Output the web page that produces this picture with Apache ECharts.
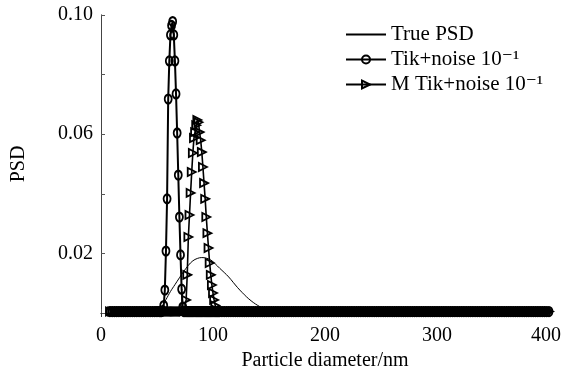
<!DOCTYPE html>
<html>
<head>
<meta charset="utf-8">
<script src="https://cdn.jsdelivr.net/npm/echarts@6/dist/echarts.min.js"></script>
<style>
html,body{margin:0;padding:0;background:#fff;}
#chart{width:562px;height:368px;}
</style>
</head>
<body>
<div id="chart"></div>
<script>
// ---- data ----
const seriesNames = ['True PSD', 'Tik+noise 10\u207B\u00B9', 'M Tik+noise 10\u207B\u00B9'];
const yTickLabels = ['0.02', '0.06', '0.10'];
const xTickLabels = ['0', '100', '200', '300', '400'];

// True PSD (smooth curve)
const trueDiam = [8, 50, 54, 58, 62, 66, 70, 74, 78, 82, 86, 90, 94, 98, 102, 106, 110, 114, 118, 122, 126, 130, 134, 138, 142, 146, 150, 154, 400];
const truePsd  = [0.0005, 0.0006, 0.0020, 0.0045, 0.0072, 0.0095, 0.0118, 0.0140, 0.0160, 0.0175, 0.0183, 0.0186, 0.0184, 0.0178, 0.0165, 0.0150, 0.0136, 0.0121, 0.0103, 0.0085, 0.0069, 0.0054, 0.0041, 0.0030, 0.0021, 0.0013, 0.0008, 0.0005, 0.0005];

// shared diameter grid of the two reconstructions (nm)
const diameters = [
  8, 10, 12, 14, 16, 18, 20, 22, 24, 26,
  28, 30, 32, 34, 36, 38, 40, 42, 44, 46,
  48, 50, 52,
  53, 54, 55, 56, 57, 58, 59, 60, 61, 62,
  63, 64, 65, 66, 67, 68, 69, 70, 71, 72,
  73, 74, 75, 76, 77, 78, 79, 80, 81, 82,
  83, 84, 85, 86, 87, 88, 89, 90, 91, 92,
  93, 94, 95, 96, 97, 98, 99, 100, 101, 102,
  103, 104, 105,
  106, 108, 110, 112, 114, 116, 118, 120, 122, 124,
  126, 128, 130, 132, 134, 136, 138, 140, 142, 144,
  146, 148, 150, 152, 154, 156, 158, 160, 162, 164,
  166, 168, 170, 172, 174, 176, 178, 180, 182, 184,
  186, 188, 190, 192, 194, 196, 198, 200, 202, 204,
  206, 208, 210, 212, 214, 216, 218, 220, 222, 224,
  226, 228, 230, 232, 234, 236, 238, 240, 242, 244,
  246, 248, 250, 252, 254, 256, 258, 260, 262, 264,
  266, 268, 270, 272, 274, 276, 278, 280, 282, 284,
  286, 288, 290, 292, 294, 296, 298, 300, 302, 304,
  306, 308, 310, 312, 314, 316, 318, 320, 322, 324,
  326, 328, 330, 332, 334, 336, 338, 340, 342, 344,
  346, 348, 350, 352, 354, 356, 358, 360, 362, 364,
  366, 368, 370, 372, 374, 376, 378, 380, 382, 384,
  386, 388, 390, 392, 394, 396, 398, 400
];

// Tik + noise 1e-1 (circles)
const tikPsd = [
  0.0005, 0.0005, 0.0005, 0.0005, 0.0005, 0.0005, 0.0005, 0.0005, 0.0005, 0.0005,
  0.0005, 0.0005, 0.0005, 0.0005, 0.0005, 0.0005, 0.0005, 0.0005, 0.0005, 0.0005,
  0.0005, 0.0005, 0.0005,
  0.0005, 0.0005, 0.0008, 0.0025, 0.0077, 0.0208, 0.0383, 0.0718, 0.0846, 0.0933,
  0.0965, 0.0978, 0.0933, 0.0846, 0.0735, 0.0604, 0.0463, 0.0322, 0.0195, 0.0080,
  0.0020, 0.0005, 0.0005, 0.0005, 0.0005, 0.0005, 0.0005, 0.0005, 0.0005, 0.0005,
  0.0005, 0.0005, 0.0005, 0.0005, 0.0005, 0.0005, 0.0005, 0.0005, 0.0005, 0.0005,
  0.0005, 0.0005, 0.0005, 0.0005, 0.0005, 0.0005, 0.0005, 0.0005, 0.0005, 0.0005,
  0.0005, 0.0005, 0.0005,
  0.0005, 0.0005, 0.0005, 0.0005, 0.0005, 0.0005, 0.0005, 0.0005, 0.0005, 0.0005,
  0.0005, 0.0005, 0.0005, 0.0005, 0.0005, 0.0005, 0.0005, 0.0005, 0.0005, 0.0005,
  0.0005, 0.0005, 0.0005, 0.0005, 0.0005, 0.0005, 0.0005, 0.0005, 0.0005, 0.0005,
  0.0005, 0.0005, 0.0005, 0.0005, 0.0005, 0.0005, 0.0005, 0.0005, 0.0005, 0.0005,
  0.0005, 0.0005, 0.0005, 0.0005, 0.0005, 0.0005, 0.0005, 0.0005, 0.0005, 0.0005,
  0.0005, 0.0005, 0.0005, 0.0005, 0.0005, 0.0005, 0.0005, 0.0005, 0.0005, 0.0005,
  0.0005, 0.0005, 0.0005, 0.0005, 0.0005, 0.0005, 0.0005, 0.0005, 0.0005, 0.0005,
  0.0005, 0.0005, 0.0005, 0.0005, 0.0005, 0.0005, 0.0005, 0.0005, 0.0005, 0.0005,
  0.0005, 0.0005, 0.0005, 0.0005, 0.0005, 0.0005, 0.0005, 0.0005, 0.0005, 0.0005,
  0.0005, 0.0005, 0.0005, 0.0005, 0.0005, 0.0005, 0.0005, 0.0005, 0.0005, 0.0005,
  0.0005, 0.0005, 0.0005, 0.0005, 0.0005, 0.0005, 0.0005, 0.0005, 0.0005, 0.0005,
  0.0005, 0.0005, 0.0005, 0.0005, 0.0005, 0.0005, 0.0005, 0.0005, 0.0005, 0.0005,
  0.0005, 0.0005, 0.0005, 0.0005, 0.0005, 0.0005, 0.0005, 0.0005, 0.0005, 0.0005,
  0.0005, 0.0005, 0.0005, 0.0005, 0.0005, 0.0005, 0.0005, 0.0005, 0.0005, 0.0005,
  0.0005, 0.0005, 0.0005, 0.0005, 0.0005, 0.0005, 0.0005, 0.0005
];

// M Tik + noise 1e-1 (triangles)
const mtikPsd = [
  0.0005, 0.0005, 0.0005, 0.0005, 0.0005, 0.0005, 0.0005, 0.0005, 0.0005, 0.0005,
  0.0005, 0.0005, 0.0005, 0.0005, 0.0005, 0.0005, 0.0005, 0.0005, 0.0005, 0.0005,
  0.0005, 0.0005, 0.0005,
  0.0005, 0.0005, 0.0005, 0.0005, 0.0005, 0.0005, 0.0005, 0.0005, 0.0005, 0.0005,
  0.0005, 0.0005, 0.0005, 0.0005, 0.0005, 0.0005, 0.0005, 0.0005, 0.0005, 0.0005,
  0.0005, 0.0005, 0.0010, 0.0044, 0.0128, 0.0255, 0.0329, 0.0403, 0.0473, 0.0537,
  0.0587, 0.0607, 0.0630, 0.0648, 0.0640, 0.0607, 0.0580, 0.0540, 0.0490, 0.0436,
  0.0383, 0.0322, 0.0268, 0.0218, 0.0168, 0.0128, 0.0094, 0.0067, 0.0044, 0.0025,
  0.0010, 0.0005, 0.0005,
  0.0005, 0.0005, 0.0005, 0.0005, 0.0005, 0.0005, 0.0005, 0.0005, 0.0005, 0.0005,
  0.0005, 0.0005, 0.0005, 0.0005, 0.0005, 0.0005, 0.0005, 0.0005, 0.0005, 0.0005,
  0.0005, 0.0005, 0.0005, 0.0005, 0.0005, 0.0005, 0.0005, 0.0005, 0.0005, 0.0005,
  0.0005, 0.0005, 0.0005, 0.0005, 0.0005, 0.0005, 0.0005, 0.0005, 0.0005, 0.0005,
  0.0005, 0.0005, 0.0005, 0.0005, 0.0005, 0.0005, 0.0005, 0.0005, 0.0005, 0.0005,
  0.0005, 0.0005, 0.0005, 0.0005, 0.0005, 0.0005, 0.0005, 0.0005, 0.0005, 0.0005,
  0.0005, 0.0005, 0.0005, 0.0005, 0.0005, 0.0005, 0.0005, 0.0005, 0.0005, 0.0005,
  0.0005, 0.0005, 0.0005, 0.0005, 0.0005, 0.0005, 0.0005, 0.0005, 0.0005, 0.0005,
  0.0005, 0.0005, 0.0005, 0.0005, 0.0005, 0.0005, 0.0005, 0.0005, 0.0005, 0.0005,
  0.0005, 0.0005, 0.0005, 0.0005, 0.0005, 0.0005, 0.0005, 0.0005, 0.0005, 0.0005,
  0.0005, 0.0005, 0.0005, 0.0005, 0.0005, 0.0005, 0.0005, 0.0005, 0.0005, 0.0005,
  0.0005, 0.0005, 0.0005, 0.0005, 0.0005, 0.0005, 0.0005, 0.0005, 0.0005, 0.0005,
  0.0005, 0.0005, 0.0005, 0.0005, 0.0005, 0.0005, 0.0005, 0.0005, 0.0005, 0.0005,
  0.0005, 0.0005, 0.0005, 0.0005, 0.0005, 0.0005, 0.0005, 0.0005, 0.0005, 0.0005,
  0.0005, 0.0005, 0.0005, 0.0005, 0.0005, 0.0005, 0.0005, 0.0005
];

// ---- chart ----
const FONT = '"Liberation Serif", "Times New Roman", "DejaVu Serif", serif';
const pair = (xs, ys) => xs.map((x, i) => [x, ys[i]]);
const hiddenSymbol = {color: 'rgba(0,0,0,0)', borderColor: 'rgba(0,0,0,0)', borderWidth: 0};

const chart = echarts.init(document.getElementById('chart'), null, {renderer: 'canvas'});
chart.setOption({
  animation: false,
  backgroundColor: '#ffffff',
  grid: {left: 101, right: 13, top: 15, bottom: 55, containLabel: false, outerBoundsMode: 'none'},
  legend: {
    orient: 'vertical',
    left: 345,
    top: 24,
    padding: 0,
    itemWidth: 40,
    itemHeight: 10,
    itemGap: 4,
    selectedMode: false,
    data: [
      {name: seriesNames[0], itemStyle: hiddenSymbol},
      {name: seriesNames[1]},
      {name: seriesNames[2]}
    ],
    textStyle: {fontFamily: FONT, fontSize: 21, color: '#000'}
  },
  xAxis: [
    {
      type: 'value', min: 0, max: 400, interval: 100,
      name: 'Particle diameter/nm', nameLocation: 'middle', nameGap: 31,
      nameTextStyle: {fontFamily: FONT, fontSize: 20, color: '#000'},
      axisLine: {lineStyle: {color: '#777', width: 1}},
      axisTick: {inside: true, length: 4, lineStyle: {color: '#555'}},
      axisLabel: {
        margin: 13, fontFamily: FONT, fontSize: 20, color: '#000',
        formatter: (v) => {
          const i = Math.round(v / 100);
          const s = xTickLabels[i] || '';
          return i === xTickLabels.length - 1 ? '{last|' + s + '}' : s;
        },
        rich: {last: {fontFamily: FONT, fontSize: 20, color: '#000', padding: [0, 6, 0, 0]}}
      },
      splitLine: {show: false}
    },
    {
      type: 'value', position: 'top', min: 0, max: 400, interval: 100,
      axisLine: {show: true, lineStyle: {color: '#333', width: 1}},
      axisTick: {show: true, inside: true, length: 4, lineStyle: {color: '#333'}},
      axisLabel: {show: false},
      splitLine: {show: false}
    }
  ],
  yAxis: [
    {
      type: 'value', min: 0, max: 0.1, interval: 0.02,
      name: 'PSD', nameLocation: 'middle', nameGap: 72, nameRotate: 90,
      nameTextStyle: {fontFamily: FONT, fontSize: 20, color: '#000'},
      axisLine: {show: true, lineStyle: {color: '#777', width: 1}},
      axisTick: {show: true, inside: true, length: 4, lineStyle: {color: '#555'}},
      axisLabel: {
        margin: 8, fontFamily: FONT, fontSize: 20, color: '#000',
        formatter: (v) => { const s = v.toFixed(2); return yTickLabels.indexOf(s) >= 0 ? s : ''; }
      },
      splitLine: {show: false}
    },
    {
      type: 'value', position: 'right', min: 0, max: 0.1, interval: 0.02,
      axisLine: {show: true, lineStyle: {color: '#444', width: 1}},
      axisTick: {show: false},
      axisLabel: {show: false},
      splitLine: {show: false}
    }
  ],
  series: [
    {
      name: seriesNames[0], type: 'line', smooth: 0.4,
      data: pair(trueDiam, truePsd),
      symbol: 'none',
      lineStyle: {color: '#000', width: 1},
      itemStyle: {color: '#000'},
      z: 2
    },
    {
      name: seriesNames[1], type: 'line',
      data: pair(diameters, tikPsd),
      symbol: 'circle', symbolSize: [7, 9], showAllSymbol: true,
      lineStyle: {color: '#000', width: 2},
      itemStyle: {color: 'rgba(255,255,255,0)', borderColor: '#000', borderWidth: 2},
      z: 3
    },
    {
      name: seriesNames[2], type: 'line',
      data: pair(diameters, mtikPsd),
      symbol: 'triangle', symbolSize: [8, 8], symbolRotate: -90, showAllSymbol: true,
      lineStyle: {color: '#000', width: 1.6},
      itemStyle: {color: 'rgba(255,255,255,0)', borderColor: '#000', borderWidth: 1.8},
      z: 4
    }
  ]
});
</script>
</body>
</html>
